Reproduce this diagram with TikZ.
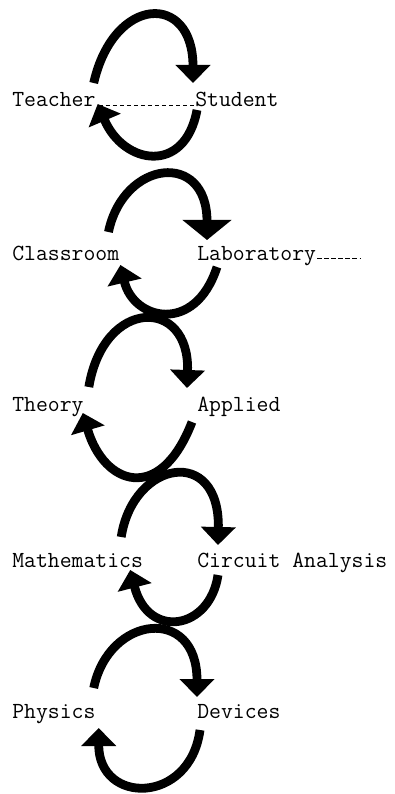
\documentclass[tikz,border=0pt]{standalone}
\usepackage{tikz}
\usetikzlibrary{arrows.meta}

\begin{document}
\begin{tikzpicture}[x=0.025cm,y=-0.025cm,
  word/.style={font=\ttfamily\fontsize{16.4}{18}\selectfont,inner sep=0pt,anchor=base west},
  swing/.style={line width=0.22cm,-{Triangle[width=0.85cm,length=0.45cm]}},
  bigswing/.style={swing,-{Triangle[width=1.2cm,length=0.5cm]}},
  gap/.style={densely dashed,line width=0.6pt}]
  \useasboundingbox (0,0) rectangle (394,794);
  % the two columns of words
  \node[word] (teacher) at (12,107) {Teacher};
  \node[word] (student) at (195,107) {Student};
  \node[word] (classroom) at (12,260) {Classroom};
  \node[word] (lab) at (197,260) {Laboratory};
  \node[word] (theory) at (12,411) {Theory};
  \node[word] (applied) at (197,411) {Applied};
  \node[word] (maths) at (12,567) {Mathematics};
  \node[word] (circuit) at (197,567) {Circuit Analysis};
  \node[word] (physics) at (12,718) {Physics};
  \node[word] (devices) at (197,718) {Devices};
  \coordinate (labend) at (360,258);
  % faint dashes on the lines
  \draw[gap] ([shift={(3,-2)}]teacher.base east) -- ([shift={(-1,-2)}]student.base west);
  \draw[gap] ([shift={(1,-2)}]lab.base east) -- (labend);
  % teacher <-> student
  \draw[swing] ([shift={(-2,-24)}]teacher.base east)
    .. controls +(20,-88) and +(0,-91) .. ([shift={(-2,-24)}]student.base west);
  \draw[swing] ([shift={(2,3)}]student.base west)
    .. controls +(-12,65) and +(26,61) .. ([shift={(2,-3)}]teacher.base east);
  % classroom <-> laboratory
  \draw[bigswing] ([shift={(-11,-28)}]classroom.base east)
    .. controls +(15,-72) and +(0,-90) .. ([shift={(10,-20)}]lab.base west);
  \draw[swing] ([shift={(20,7)}]lab.base west)
    .. controls +(-22,68) and +(13,55) .. ([shift={(1,5)}]classroom.base east);
  % theory <-> applied
  \draw[swing] ([shift={(5,-24)}]theory.base east)
    .. controls +(15,-90) and +(3,-91) .. ([shift={(-10,-23)}]applied.base west);
  \draw[swing] ([shift={(-5,11)}]applied.base west)
    .. controls +(-32,83) and +(21,72) .. ([shift={(-1,2)}]theory.base east);
  % mathematics <-> circuit analysis
  \draw[swing] ([shift={(-22,-30)}]maths.base east)
    .. controls +(12,-77) and +(2,-100) .. ([shift={(21,-22)}]circuit.base west);
  \draw[swing] ([shift={(21,8)}]circuit.base west)
    .. controls +(-8,55) and +(18,70) .. ([shift={(-13,3)}]maths.base east);
  % physics <-> devices
  \draw[swing] ([shift={(-2,-30)}]physics.base east)
    .. controls +(15,-73) and +(0,-92) .. ([shift={(0,-21)}]devices.base west);
  \draw[swing] ([shift={(3,12)}]devices.base west)
    .. controls +(-10,75) and +(0,77) .. ([shift={(3,10)}]physics.base east);
\end{tikzpicture}
\end{document}
